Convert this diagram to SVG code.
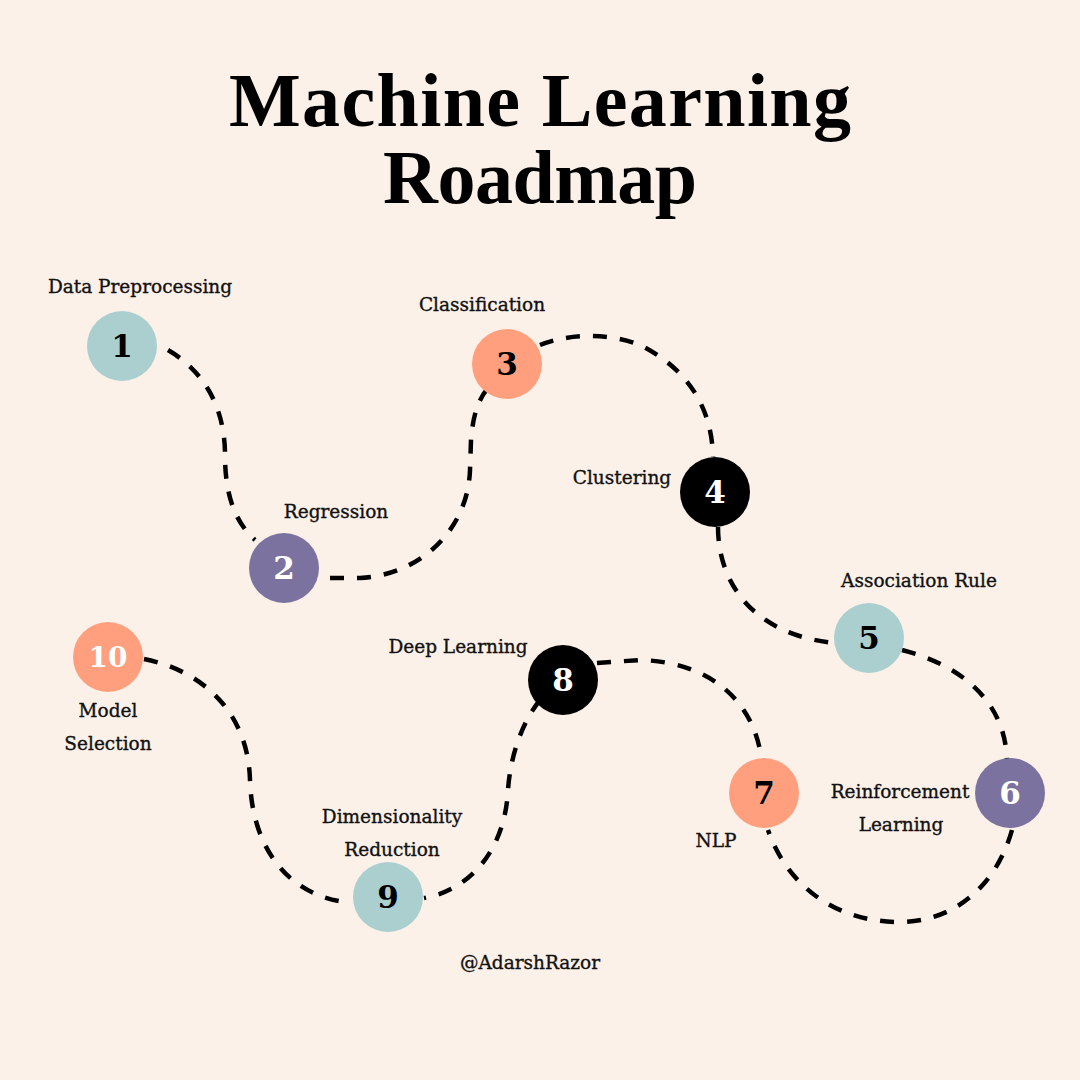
<svg xmlns="http://www.w3.org/2000/svg" width="1080" height="1080" viewBox="0 0 1080 1080">
<style>
.title{font-family:"Liberation Serif","DejaVu Serif",serif;font-weight:bold;font-size:76px;fill:#000;text-anchor:middle}
.lbl{font-family:"DejaVu Serif","Liberation Serif",serif;font-size:18.5px;fill:#111;stroke:#111;stroke-width:0.35px;text-anchor:middle}
.num{font-family:"DejaVu Serif","Liberation Serif",serif;font-weight:bold;font-size:31px;text-anchor:middle}
.num2{font-size:28px}
.dk{fill:#000}
.wt{fill:#fff}
.teal{fill:#ABCFCF}
.purple{fill:#7B729F}
.salmon{fill:#FF9F7D}
.black{fill:#000}
.conn{fill:none;stroke:#000;stroke-width:4.5;stroke-dasharray:14 13}
</style>
<rect width="1080" height="1080" fill="#FCF1E9"/>
<g id="title">
<text class="title" x="540" y="126" textLength="622">Machine Learning</text>
<text class="title" x="540" y="203" textLength="314">Roadmap</text>
</g>
<g id="connectors">
<path class="conn" d="M168,350 C212,376 225,418 225,455 C225,495 235,522 255,540"/>
<path class="conn" d="M330,578 L360,578 C420,575 468,530 470,470 L471,440 C473,415 478,400 488,388"/>
<path class="conn" d="M540,345 C570,333 610,333 640,345 C690,370 712,410 713,457"/>
<path class="conn" d="M718,527 C718,580 750,634 834,643"/>
<path class="conn" d="M902,650 C960,665 1005,700 1007,760"/>
<path class="conn" d="M1012,830 C995,890 950,922 900,922 C830,922 785,880 768,830"/>
<path class="conn" d="M597,663 L640,660 C710,662 750,700 760,750"/>
<path class="conn" d="M540,700 C520,725 510,760 508,790 C505,850 470,890 424,898"/>
<path class="conn" d="M144,659 C200,670 248,710 250,780 C252,850 290,895 345,902"/>
</g>
<g id="node1">
<circle class="teal" cx="122" cy="346" r="35"/>
<text class="num dk" x="122" y="357">1</text>
<text class="lbl" x="140" y="293">Data Preprocessing</text>
</g>
<g id="node2">
<circle class="purple" cx="284" cy="568" r="35"/>
<text class="num wt" x="284" y="579">2</text>
<text class="lbl" x="336" y="518">Regression</text>
</g>
<g id="node3">
<circle class="salmon" cx="507" cy="364" r="35"/>
<text class="num dk" x="507" y="375">3</text>
<text class="lbl" x="482" y="311">Classification</text>
</g>
<g id="node4">
<circle class="black" cx="715" cy="492" r="35"/>
<text class="num wt" x="715" y="503">4</text>
<text class="lbl" x="622" y="484">Clustering</text>
</g>
<g id="node5">
<circle class="teal" cx="869" cy="638" r="35"/>
<text class="num dk" x="869" y="649">5</text>
<text class="lbl" x="919" y="587">Association Rule</text>
</g>
<g id="node6">
<circle class="purple" cx="1010" cy="793" r="35"/>
<text class="num wt" x="1010" y="804">6</text>
<text class="lbl" x="900" y="798">Reinforcement</text>
<text class="lbl" x="901" y="831">Learning</text>
</g>
<g id="node7">
<circle class="salmon" cx="764" cy="793" r="35"/>
<text class="num dk" x="764" y="804">7</text>
<text class="lbl" x="716" y="847">NLP</text>
</g>
<g id="node8">
<circle class="black" cx="563" cy="680" r="35"/>
<text class="num wt" x="563" y="691">8</text>
<text class="lbl" x="458" y="653">Deep Learning</text>
</g>
<g id="node9">
<circle class="teal" cx="388" cy="897" r="35"/>
<text class="num dk" x="388" y="908">9</text>
<text class="lbl" x="392" y="823">Dimensionality</text>
<text class="lbl" x="392" y="856">Reduction</text>
</g>
<g id="node10">
<circle class="salmon" cx="108" cy="657" r="35"/>
<text class="num num2 wt" x="108" y="667">10</text>
<text class="lbl" x="108" y="717">Model</text>
<text class="lbl" x="108" y="750">Selection</text>
</g>
<g id="credit">
<text class="lbl" x="530" y="969">@AdarshRazor</text>
</g>
</svg>
